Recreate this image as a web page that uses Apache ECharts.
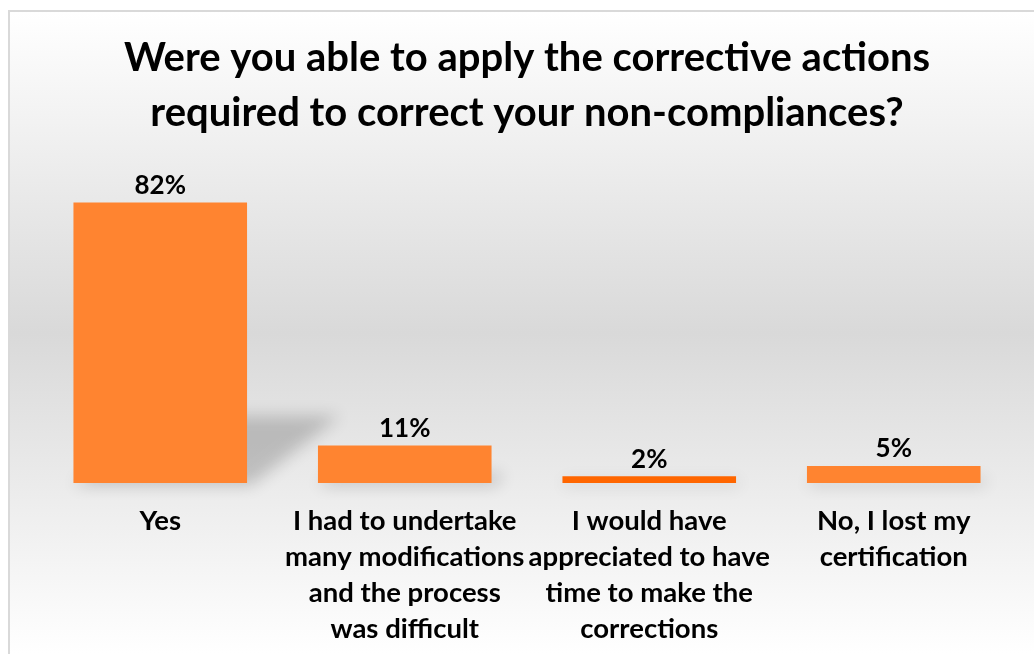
<!DOCTYPE html>
<html>
<head>
<meta charset="utf-8">
<script src="https://cdn.jsdelivr.net/npm/echarts@6/dist/echarts.min.js"></script>
<style>
  html, body { margin: 0; padding: 0; background: #ffffff; }
  #frame {
    position: absolute; left: 8px; top: 10px; width: 1026px; height: 644px;
    box-sizing: border-box; border-top: 2px solid #d9d9d9; border-left: 2px solid #d9d9d9;
  }
  #chart { width: 100%; height: 100%; }
</style>
</head>
<body>
<div id="frame"><div id="chart"></div></div>
<script>
// Survey answers and their shares (%)
const categories = [
  'Yes',
  'I had to undertake\nmany modifications\nand the process\nwas difficult',
  'I would have\nappreciated to have\ntime to make the\ncorrections',
  'No, I lost my\ncertification'
];
const shares = [82, 11, 2, 5];
const titleText = 'Were you able to apply the corrective actions\nrequired to correct your non-compliances?';

// Fill colour of each bar
const barColors = ['#ff8430', '#ff8430', '#ff6600', '#ff8430'];
const FONT = 'Lato';
const BAR_RATIO = 0.71;

const chart = echarts.init(document.getElementById('chart'));

// Soft cast shadow behind each bar, leaning back to the right
function renderShadow(params, api) {
  const idx = api.value(0);
  const v = api.value(1);
  const base = api.coord([idx, 0]);
  const top = api.coord([idx, v]);
  const bw = api.size([1, 0])[0] * BAR_RATIO;
  const h = base[1] - top[1];
  const sh = h * 0.24;
  const dx = sh * 1.38;
  const x0 = base[0] - bw / 2, x1 = base[0] + bw / 2, y0 = base[1];
  const off = 3000;
  return {
    type: 'polygon',
    shape: { points: [[x0 - off, y0 + 2], [x1 - off + 4, y0 + 2], [x1 + dx - off, y0 - sh], [x0 + dx - off, y0 - sh]] },
    style: {
      fill: '#000',
      shadowColor: 'rgba(0,0,0,0.19)',
      shadowBlur: 16,
      shadowOffsetX: off,
      shadowOffsetY: 0
    },
    z2: 0
  };
}

chart.setOption({
  animation: false,
  backgroundColor: {
    type: 'linear', x: 0, y: 0, x2: 0, y2: 1,
    colorStops: [
      { offset: 0, color: '#ffffff' },
      { offset: 0.5, color: '#d9d9d9' },
      { offset: 1, color: '#ffffff' }
    ]
  },
  title: {
    text: titleText,
    left: 512,
    textAlign: 'center',
    top: 14,
    textStyle: { fontFamily: FONT, fontWeight: 'bold', fontSize: 40, lineHeight: 55, color: '#000000' }
  },
  grid: { left: 28, right: 18, top: 129, bottom: 171 },
  xAxis: {
    type: 'category',
    data: categories,
    axisLine: { show: false },
    axisTick: { show: false },
    axisLabel: {
      interval: 0,
      margin: 20,
      fontFamily: FONT,
      fontWeight: 'bold',
      fontSize: 27.5,
      lineHeight: 36,
      color: '#000000',
      align: 'center'
    }
  },
  yAxis: { type: 'value', min: 0, max: 100, show: false, splitLine: { show: false } },
  series: [
    {
      type: 'custom',
      renderItem: renderShadow,
      data: shares.map((v, i) => [i, v]),
      clip: false,
      silent: true,
      z: 1
    },
    {
      type: 'bar',
      data: shares.map((v, i) => ({ value: v, itemStyle: { color: barColors[i] } })),
      barWidth: (BAR_RATIO * 100) + '%',
      z: 2,
      label: {
        show: true,
        position: 'top',
        distance: 4,
        formatter: '{c}%',
        fontFamily: FONT,
        fontWeight: 'bold',
        fontSize: 26,
        color: '#000000'
      }
    }
  ]
});
</script>
</body>
</html>
